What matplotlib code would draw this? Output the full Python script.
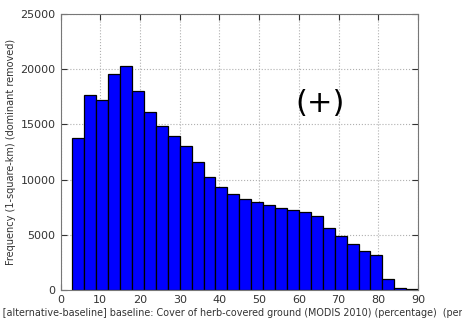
import numpy as np
import matplotlib
matplotlib.use('Agg')
import matplotlib.pyplot as plt

# bin edges (percentage) and counts
bin_edges = [3, 6, 9, 12, 15, 18, 21, 24, 27, 30, 33, 36, 39, 42, 45, 48,
             51, 54, 57, 60, 63, 66, 69, 72, 75, 78, 81, 84, 87, 90]
counts = [13750, 17650, 17200, 19600, 20250, 18050, 16150, 14850, 13900,
          13050, 11550, 10250, 9350, 8650, 8200, 7950, 7650, 7450, 7200,
          7050, 6700, 5650, 4850, 4150, 3550, 3150, 1000, 150, 50]
xticks = [0, 10, 20, 30, 40, 50, 60, 70, 80, 90]
yticks = [0, 5000, 10000, 15000, 20000, 25000]

xlabel = ('Value [alternative-baseline] baseline: Cover of herb-covered ground '
          '(MODIS 2010) (percentage)  (percentage)')
ylabel = 'Frequency (1-square-km) (dominant removed)'

plt.rcParams['font.family'] = 'DejaVu Sans'
plt.rcParams['xtick.direction'] = 'in'
plt.rcParams['ytick.direction'] = 'in'

fig = plt.figure(figsize=(4.62, 3.25), dpi=100)
ax = fig.add_axes([0.131, 0.108, 0.774, 0.849])

edges = np.array(bin_edges)
ax.bar(edges[:-1], counts, width=np.diff(edges), align='edge',
       color='#0000ff', edgecolor='black', linewidth=0.9, zorder=2)

ax.set_xlim(0, 90)
ax.set_ylim(0, 25000)
ax.set_xticks(xticks)
ax.set_yticks(yticks)
ax.tick_params(labelsize=8, colors='#333333', length=4, top=True, right=True)
for sp in ax.spines.values():
    sp.set_color('#777777')

ax.grid(True, linestyle=':', color='#b0b0b0', linewidth=0.8, zorder=0)
ax.set_axisbelow(True)

ax.set_xlabel(xlabel, fontsize=6.9, color='#333333', labelpad=2)
ax.set_ylabel(ylabel, fontsize=7, color='#333333', labelpad=3)

ax.text(65.3, 16850, '(+)', fontsize=22, ha='center', va='center')

plt.savefig('out.png', dpi=100)
plt.close()
